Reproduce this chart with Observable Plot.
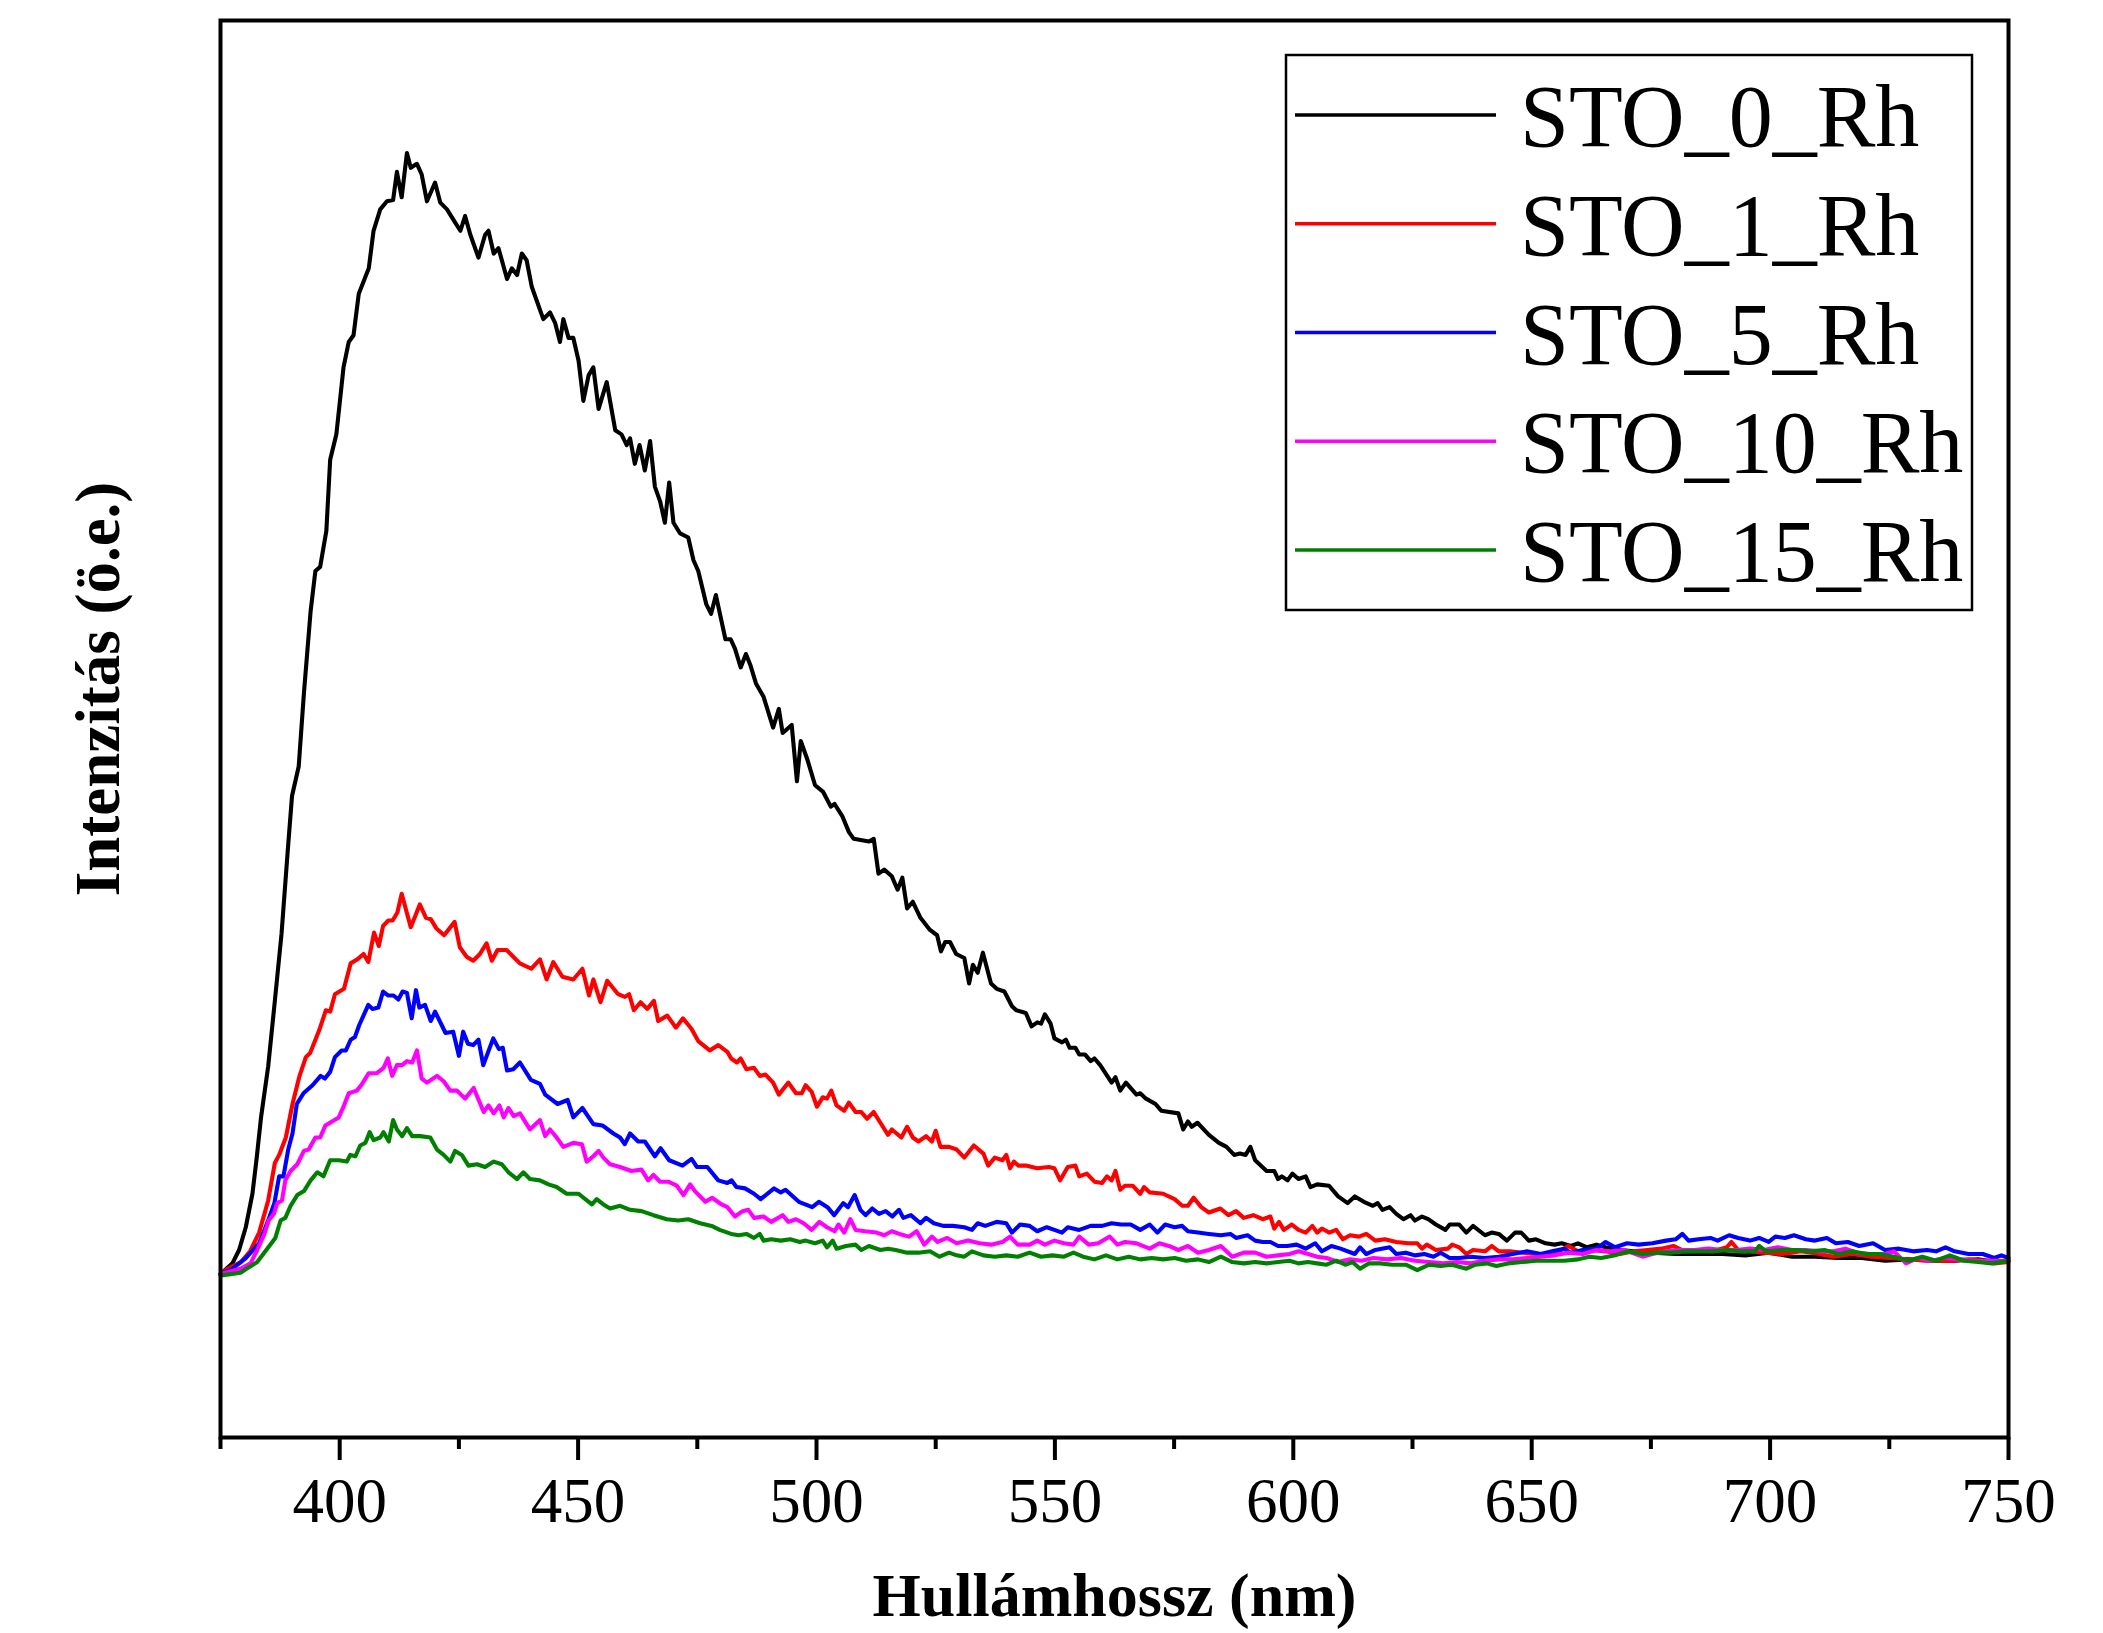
<!DOCTYPE html>
<html><head><meta charset="utf-8">
<script src="https://cdn.jsdelivr.net/npm/d3@7"></script>
<script src="https://cdn.jsdelivr.net/npm/@observablehq/plot@0.6"></script>
<style>
html,body{margin:0;padding:0;background:#fff;}
#wrap{position:relative;width:2103px;height:1633px;overflow:hidden;}
#legend{position:absolute;left:0;top:0;}
</style></head><body><div id="wrap"></div>
<script>
// [wavelength (nm), intensity (arb. units)]
const STO_0_Rh = [[375,0],[377.5,8],[378.9,18],[380.3,35],[381.7,60],[382.6,87],[383.5,117],[385,155],[386.4,204],[387.8,254],[389.1,316],[390,357],[391.4,379],[392.5,434],[393.9,495],[394.9,525],[395.9,528],[397.2,555],[398,608],[399.3,627],[400.8,677],[401.9,696],[402.9,701],[404,732],[406.1,751],[407.1,779],[408.5,795],[409.9,801],[411.2,802],[412,823],[413,804],[414.1,837],[414.9,826],[416.2,829],[417.2,821],[418.3,801],[420,815],[421.1,800],[422.5,795],[423.9,787],[425.3,779],[426.3,790],[427.4,776],[429.1,759],[430.5,776],[431.2,779],[432.3,762],[433.3,766],[435.1,743],[436.1,751],[437.2,746],[438.2,762],[439.2,757],[440.3,737],[442.7,713],[444.1,718],[445.2,710],[446.2,696],[446.9,713],[448,699],[449,699],[450.1,682],[451.1,652],[452.2,671],[453.2,677],[454.3,646],[456,666],[457.8,630],[459.1,627],[460.2,619],[460.9,624],[461.9,605],[462.9,619],[464,600],[465.1,622],[466.1,588],[467.2,577],[468.2,561],[469.1,591],[470,561],[471.4,553],[473.1,550],[474.2,533],[475.2,525],[476.9,500],[477.9,493],[478.9,507],[480.9,474],[482,474],[482.9,467],[484.1,453],[485.2,463],[486.1,455],[487.3,441],[488.9,431],[490.9,408],[492.1,422],[492.9,404],[494.8,410],[495.9,368],[496.7,398],[498.1,384],[499.7,365],[501.4,360],[503,349],[503.8,351],[505.4,342],[506.8,330],[507.8,325],[511,323],[512,325],[513,299],[514.2,302],[515.8,297],[517,287],[518,296],[519,273],[520.2,278],[521.8,266],[523.8,257],[525.3,253],[526.1,241],[527,248],[528,248],[529.3,239],[531,236],[532,217],[532.8,231],[533.8,225],[534.9,240],[536.6,217],[537.8,213],[539.4,211],[541,200],[541.9,197],[543.9,195],[545.1,185],[546.3,188],[547.1,187],[547.9,194],[549.1,187],[549.9,176],[551.5,173],[552.3,175],[553.1,169],[554.3,169],[555.1,164],[556.3,164],[557.5,159],[558.3,161],[559.5,156],[561.9,143],[562.7,147],[563.7,137],[564.9,143],[567.1,134],[567.9,135],[569.1,131],[571.1,127],[572.3,122],[575.9,120],[576.9,108],[577.9,114],[578.7,110],[579.9,113],[582.3,104],[584.4,98],[586,95],[587.6,89],[588.8,90],[590,89],[591,95],[592,85],[594.4,77],[596,77],[596.8,71],[597.6,73],[598.8,70],[599.8,75],[601.1,71],[602.6,73],[603.6,65],[605,67],[607.5,66],[609.4,58],[611.4,53],[612.9,58],[614.8,54],[616.7,51],[617.7,53],[618.7,48],[620.2,50],[621.6,45],[623.1,41],[624.6,44],[625.5,40],[627,43],[628.3,41],[629.9,37],[631.9,33],[632.8,37],[634.8,37],[636.3,31],[637.7,36],[640.2,29],[641.6,31],[643.1,30],[644.8,25],[646.5,31],[647.8,31],[649.4,25],[650.9,26],[652.9,23],[654.8,22],[656.3,23],[658.2,21],[659.7,23],[661.6,20],[663.6,22],[665.5,20],[668.5,18],[671.4,17],[675.3,16],[680.2,15],[685,15],[690,15],[694.8,14],[699.7,16],[704.6,13],[709.4,13],[714.3,12],[719.2,12],[724.1,10],[729,11],[733.8,10],[738.7,10],[743.6,11],[747.5,9],[750,10]];

const STO_1_Rh = [[375,0],[376.5,4],[379.3,9],[381.2,17],[383.1,31],[385,55],[386.4,83],[387.3,89],[388.7,102],[390.1,127],[391.5,147],[392.9,162],[393.8,165],[395.7,182],[397.1,197],[398,196],[399,209],[400.9,213],[402.3,232],[403.7,235],[405,239],[406,233],[407.2,255],[408.2,245],[409.1,260],[410.2,264],[411.1,264],[412.1,270],[413,284],[414.9,259],[416.8,276],[418.1,266],[419.1,265],[420.3,258],[421.9,253],[424.1,263],[425.2,244],[426.6,237],[428,234],[429.4,239],[430.8,247],[431.9,234],[433.1,242],[435,242],[436.4,237],[437.8,232],[440.2,228],[442,235],[443.4,220],[444.8,233],[446.7,222],[449,220],[450.9,228],[452.3,208],[453.2,220],[454.7,203],[456.1,219],[458.4,209],[459.8,207],[460.7,209],[461.7,197],[463.1,203],[464.5,198],[465.9,204],[466.8,189],[468.7,193],[470.5,184],[472,191],[473.8,183],[475.2,174],[477.6,167],[479.4,171],[481.3,166],[482.1,161],[483.3,158],[484.1,161],[485.3,153],[486.9,154],[488.1,148],[489.3,149],[490.9,143],[492.1,134],[494.1,143],[495.7,135],[496.9,135],[497.7,141],[499,136],[500.1,125],[501.3,132],[502.2,131],[503.1,137],[504.2,126],[505.8,122],[506.8,128],[508.2,121],[509.4,121],[510.6,116],[512,121],[513.4,113],[515,104],[515.8,108],[517.8,102],[519,110],[520.2,102],[521.4,99],[523,103],[524.2,99],[525,107],[526,95],[527.8,95],[529.4,93],[531,87],[533,96],[535,90],[536,81],[537.4,87],[539,85],[539.8,89],[540.6,79],[541.4,84],[542.3,81],[543.9,81],[546.3,79],[548.7,80],[549.9,79],[551.1,70],[552.7,80],[554.3,81],[555.1,73],[556.7,75],[558.3,69],[559.9,68],[560.9,73],[561.9,70],[562.7,77],[563.7,63],[564.7,66],[566.3,66],[567.9,60],[568.7,65],[569.9,61],[572.7,60],[575.1,56],[576.7,51],[577.9,51],[579.1,57],[580.7,50],[582.3,46],[584.7,49],[586.4,44],[588,47],[589.6,42],[591.6,44],[593.6,41],[595.2,43],[596,34],[597,39],[598,33],[599.7,37],[601.1,33],[602.6,31],[604,36],[605,31],[606,34],[607.5,31],[609,33],[610.4,26],[611.9,29],[613.8,28],[615.3,30],[617.2,25],[619.2,26],[621.6,24],[624.1,23],[626,23],[627,19],[628,22],[629.9,18],[632.4,19],[633.3,22],[634.8,20],[636.3,15],[637.7,18],[640.2,17],[641.6,21],[643.1,17],[645.5,17],[648,16],[650.9,15],[652.9,15],[655.8,17],[657.7,21],[659.7,17],[662.6,18],[665.5,17],[668.5,15],[671.4,17],[674.3,18],[677.2,19],[679.7,21],[682.1,17],[685,18],[688,17],[690.9,20],[691.9,24],[693.3,18],[695.8,17],[698.7,16],[702.6,15],[706.5,17],[710.4,15],[713.3,13],[717.2,15],[721.1,13],[725,12],[729,11],[733.8,10],[737.7,10],[741.6,11],[744.6,10],[747,8],[750,9]];

const STO_5_Rh = [[375,0],[377.5,4],[380.3,12],[383.1,23],[385,40],[386.3,53],[387.3,73],[388.2,73],[389.2,93],[390.1,105],[391,127],[392.4,135],[394.3,141],[396,148],[396.9,146],[398,151],[399,162],[400.4,167],[401.3,167],[402.3,175],[403.2,177],[404.1,186],[406,201],[406.9,198],[408.1,199],[409.1,211],[410.2,208],[411.3,208],[412.3,205],[413.2,211],[414.1,210],[415.1,191],[416,212],[416.7,199],[417.9,201],[419.1,189],[420,196],[422.2,180],[423.8,181],[425,163],[425.9,181],[426.9,172],[428,171],[429.1,175],[430.1,156],[432.2,176],[433.4,168],[434.2,169],[435.1,152],[436.4,153],[437.8,158],[440.1,145],[442,142],[443.1,134],[445.7,127],[447.8,130],[449,117],[450.9,124],[453.2,112],[455.1,111],[457.4,105],[458.8,102],[459.8,97],[460.9,105],[462.6,99],[464,99],[466.1,88],[467.3,94],[469.1,85],[471.9,81],[473.8,86],[474.9,80],[477.1,80],[479.4,70],[481.3,68],[482.2,70],[483.2,65],[485,64],[486.9,60],[488.3,56],[491.1,64],[492.5,61],[493.5,63],[496.3,54],[499.1,50],[500.5,54],[502.3,50],[503.7,44],[505.6,53],[506.6,50],[508,59],[509.2,48],[510.3,44],[511.7,49],[513.1,45],[514.5,47],[515.9,43],[517.3,48],[518.2,42],[519.8,44],[521.8,38],[523,42],[524.6,38],[526.6,36],[528.6,36],[531,35],[532.6,33],[533.8,38],[535.4,36],[537.8,39],[539.8,38],[541,31],[542.7,37],[544.7,36],[546.3,32],[548.3,35],[549.9,33],[551.5,31],[552.7,35],[555.1,33],[557.5,36],[559.9,36],[561.9,38],[563.9,37],[565.9,37],[567.9,33],[569.9,37],[571.5,31],[573.1,37],[575.1,35],[576.7,36],[577.9,32],[580,31],[582.3,30],[584.8,29],[586.8,30],[588,27],[590.4,29],[592,25],[593.6,24],[595.2,24],[596.8,21],[598.7,21],[600.7,22],[602.6,19],[604.6,23],[606,17],[608,21],[609.9,19],[612.9,15],[614,20],[615.3,15],[617.2,18],[620.2,20],[621.6,15],[623.6,16],[625.5,14],[627.5,15],[629.4,13],[630.9,16],[632.8,12],[634.8,12],[637.2,13],[640.2,12],[643.1,13],[646,15],[649,17],[651.9,15],[654.3,17],[656.8,19],[658.2,16],[660.7,18],[663.6,19],[665.5,24],[667.5,20],[670,23],[672.4,22],[675.3,23],[678.2,25],[680.2,26],[681.6,30],[682.9,25],[685,26],[687.5,27],[689,25],[691.4,29],[693.3,27],[695.8,25],[697.7,27],[699.7,24],[701.1,28],[703.1,27],[705,29],[707.5,26],[709.4,25],[711.9,27],[713.8,23],[716.3,24],[718.7,21],[721.6,23],[724.1,18],[727,19],[730,17],[732.9,18],[734.8,17],[736.8,20],[738.7,17],[741.6,15],[744.6,15],[747,12],[748.5,14],[750,12]];

const STO_10_Rh = [[375,0],[379.2,4],[381.3,8],[382.7,18],[384.1,29],[385.1,40],[386.2,45],[386.9,53],[387.9,55],[388.6,70],[389.7,77],[391.1,82],[392.5,92],[393.5,93],[394.9,102],[395.9,102],[397,111],[398.4,114],[399.8,117],[400.8,125],[401.9,135],[403.6,137],[404.7,142],[406.1,150],[407.8,150],[409.2,154],[410.1,161],[411,148],[412,156],[413.1,156],[414.1,159],[415.2,158],[416.2,167],[417.2,146],[418.3,143],[420.4,148],[421.8,144],[423.2,137],[424.6,137],[426.3,131],[428.1,139],[430.2,121],[431.2,126],[432.3,120],[433.5,126],[434.4,117],[435.4,124],[436.5,118],[437.8,120],[439.9,108],[442,115],[443.1,103],[444.1,108],[445.5,102],[446.9,95],[449,98],[450.8,97],[451.8,84],[453.2,88],[454.3,92],[455.3,87],[456.7,82],[458.8,80],[461.2,77],[463.3,78],[464.7,70],[465.8,74],[467.2,69],[468.9,69],[470.7,66],[472.1,59],[473.5,67],[474.5,62],[476.7,54],[478.1,57],[480.1,52],[481.3,50],[482.9,43],[484.5,47],[485.7,48],[486.9,42],[488.9,43],[490.5,39],[492.9,44],[494.1,39],[495.7,41],[497.3,38],[499,33],[500.6,39],[502.2,35],[503.8,32],[504.6,37],[505.8,31],[507.1,41],[508.2,33],[510.2,32],[512.6,31],[514.2,29],[515.8,32],[517.4,30],[519.4,28],[521,32],[522.6,22],[524.2,28],[525.4,24],[527.4,27],[529.4,23],[531.8,25],[534.2,23],[536.6,22],[539,24],[540.6,28],[542.2,22],[544.7,22],[546.3,25],[547.9,22],[549.9,25],[551.9,23],[553.9,22],[555.1,28],[557.1,22],[559.1,23],[561.5,28],[563.1,22],[564.7,24],[567.1,23],[569.9,19],[571.9,23],[573.9,21],[575.9,18],[577.9,21],[580,16],[582.3,18],[584.8,21],[587.2,13],[589.6,16],[592,16],[594.4,13],[596.8,14],[599.2,15],[601.1,17],[603.1,15],[605,13],[607,12],[609.4,9],[611.9,11],[614.3,10],[616.8,12],[619.7,11],[622.6,12],[625.5,10],[628.5,9],[631.4,8],[634.3,9],[637.2,8],[640.2,10],[643.1,11],[646,11],[649,12],[651.9,13],[654.8,14],[657.7,16],[660.7,15],[663.6,18],[666.5,17],[669.4,18],[673.3,13],[675.3,15],[678.2,17],[681.1,18],[684.1,18],[687,19],[690,18],[692.9,18],[695.8,19],[698.7,18],[701.6,20],[704.6,18],[707.5,18],[710.4,17],[713.3,17],[715.8,19],[718.2,16],[721.1,15],[724.1,15],[726,17],[728.5,8],[730.9,12],[733.8,10],[736.8,12],[739.7,11],[742.6,10],[745.5,10],[748.5,10],[750,10]];

const STO_15_Rh = [[375,-1],[377.1,0],[379.2,1],[380.9,5],[382.7,9],[384.8,19],[386.5,27],[387.6,40],[388.6,42],[389.7,51],[391.1,59],[392.5,62],[393.9,70],[395.3,76],[396.6,73],[398,85],[399.8,85],[401.5,84],[402.2,89],[403.3,88],[404.3,96],[405.4,98],[406.3,106],[407.1,100],[408.5,102],[409.2,106],[410.3,99],[411.2,115],[412,108],[413.1,103],[414.1,109],[415.2,103],[416.9,103],[419,102],[420.4,93],[421.8,89],[423.2,84],[424.2,92],[425.6,89],[427,81],[428.8,82],[430.5,80],[432.3,84],[434,82],[435.4,76],[437.2,71],[438.5,76],[439.9,71],[442,70],[443.8,67],[445.5,65],[447.6,60],[450.1,60],[451.5,56],[452.9,52],[453.9,56],[455.3,52],[456.7,49],[458.8,51],[460.9,48],[463.3,47],[465.8,44],[468.6,41],[471,40],[473.1,41],[475.6,38],[478,36],[479.7,33],[482.1,30],[483.7,29],[485.3,30],[486.9,27],[488.1,30],[488.9,25],[490.5,26],[492.5,25],[494.5,26],[496.5,24],[497.7,25],[499.7,23],[501.3,25],[502.2,20],[503.4,25],[504.2,19],[506.2,21],[508.2,22],[509.4,18],[511,21],[513.4,18],[515,19],[516.6,18],[519,16],[521.4,16],[523.8,17],[525.8,13],[527.8,16],[529.4,14],[531,13],[532.6,17],[535,14],[537.4,13],[539.8,14],[542.2,13],[544.7,16],[547.1,13],[549.5,14],[551.9,13],[553.9,16],[555.9,13],[558.3,11],[560.7,14],[563.1,11],[565.5,13],[567.9,11],[570.3,12],[572.7,11],[575.1,12],[577.5,10],[580,11],[582.3,9],[584.8,13],[587.2,9],[589.6,8],[592,9],[594.4,8],[596.8,9],[599.2,10],[601.1,8],[603.1,9],[605,8],[607,7],[609,10],[610.9,7],[612.4,9],[614,4],[615.8,8],[618.2,8],[620.7,7],[623.6,7],[626,3],[628.5,7],[630.9,6],[633.3,7],[636.3,4],[638.2,7],[640.6,8],[642.6,6],[645,8],[648,9],[650.9,10],[653.8,10],[656.8,10],[659.7,11],[662.1,13],[664.6,12],[667.5,14],[670,17],[673.3,15],[676.3,16],[679.2,16],[682.1,17],[685,17],[688,17],[690.9,18],[693.8,17],[696.8,17],[697.7,21],[699.2,17],[702.6,18],[705.5,18],[708.5,17],[711.4,18],[714.3,15],[717.2,17],[720.2,15],[723,15],[726,13],[729,10],[731.9,13],[734.8,10],[737.7,14],[740.7,10],[743.6,9],[746.5,8],[750,10]];

const seriesNames = ["STO_0_Rh", "STO_1_Rh", "STO_5_Rh", "STO_10_Rh", "STO_15_Rh"];
const seriesColors = ["#000000", "#ff0000", "#0000ff", "#ff00ff", "#008000"];
const majorTicks = [400, 450, 500, 550, 600, 650, 700, 750];
const minorTicks = [375, 425, 475, 525, 575, 625, 675, 725];
const xLabel = "Hullámhossz (nm)";
const yLabel = "Intenzitás (ö.e.)";

const seriesValues = [STO_0_Rh, STO_1_Rh, STO_5_Rh, STO_10_Rh, STO_15_Rh];
const data = seriesNames.flatMap((name, i) => seriesValues[i].map(([wl, v]) => ({name, wl, v})));

const FONT = "'Liberation Serif','Times New Roman',Times,serif";

const chart = Plot.plot({
  width: 2103,
  height: 1633,
  marginLeft: 220,
  marginRight: 95,
  marginTop: 20,
  marginBottom: 196,
  style: {fontFamily: FONT, background: "#fff", color: "#000", overflow: "visible"},
  x: {domain: [375, 750]},
  y: {domain: [-122, 936], axis: null},
  color: {domain: seriesNames, range: seriesColors},
  marks: [
    Plot.line(data, {x: "wl", y: "v", z: "name", stroke: "name", strokeWidth: 4.1, strokeLinejoin: "round", strokeLinecap: "round"}),
    Plot.frame({stroke: "#000", strokeWidth: 4}),
    Plot.axisX({ticks: minorTicks, tickSize: 12, tickFormat: () => "", label: null, strokeWidth: 4}),
    Plot.axisX({ticks: majorTicks, tickSize: 23, tickPadding: 17, fontSize: 63, label: null, strokeWidth: 4, tickFormat: d => String(d)}),
    Plot.text([xLabel], {text: d => d, frameAnchor: "bottom", textAnchor: "middle", dy: 178, fontSize: 62, fontWeight: "bold"}),
    Plot.text([yLabel], {text: d => d, frameAnchor: "left", textAnchor: "middle", rotate: -90, dx: -122, dy: -40, fontSize: 63, fontWeight: "bold"})
  ]
});

const wrap = document.getElementById("wrap");
wrap.appendChild(chart);

// Legend box (upper right, inside the frame)
const lg = d3.select(wrap).append("svg")
  .attr("id", "legend")
  .attr("width", 2103).attr("height", 1633)
  .style("pointer-events", "none");
lg.append("rect")
  .attr("x", 1286).attr("y", 55).attr("width", 686).attr("height", 555)
  .attr("fill", "#fff").attr("stroke", "#000").attr("stroke-width", 2.5);
const rowY = (i) => 115 + i * 108.75;
seriesNames.forEach((name, i) => {
  lg.append("line")
    .attr("x1", 1295).attr("x2", 1496)
    .attr("y1", rowY(i)).attr("y2", rowY(i))
    .attr("stroke", seriesColors[i]).attr("stroke-width", 3.7);
  lg.append("text")
    .attr("x", 1520).attr("y", rowY(i) + 31)
    .attr("font-family", FONT).attr("font-size", 88)
    .attr("fill", "#000")
    .text(name);
});
</script>
</body></html>
